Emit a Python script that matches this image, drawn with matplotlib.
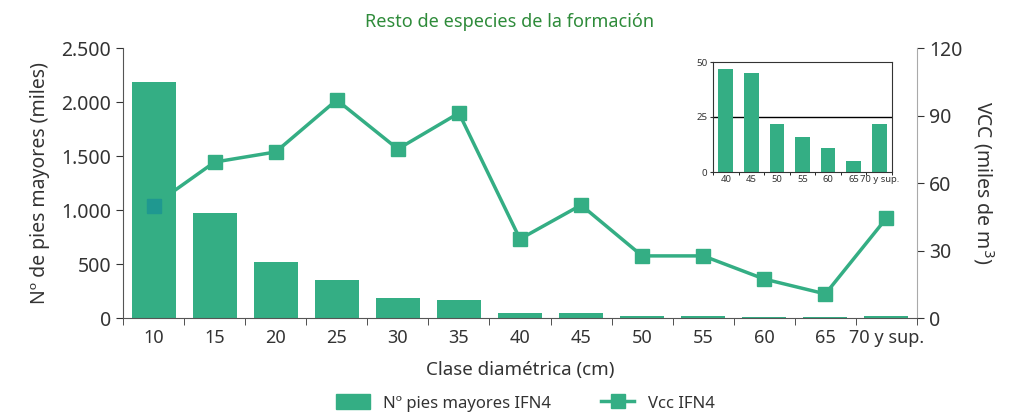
import numpy as np
import matplotlib.pyplot as plt
from matplotlib.patches import Patch
from matplotlib.lines import Line2D

plt.rcParams['font.family'] = ['Noto Sans', 'DejaVu Sans']

clases = ['10', '15', '20', '25', '30', '35', '40', '45', '50', '55', '60', '65', '70 y sup.']
pies = [2185, 970, 518, 352, 185, 167, 47, 45, 22, 16, 11, 5, 22]
vcc = [50.0, 69.3, 73.8, 96.9, 75.1, 91.1, 35.1, 50.2, 27.6, 27.6, 17.3, 10.7, 44.4]

inset_clases = clases[6:]
inset_pies = pies[6:]

green = '#34ae84'
dark = '#333333'

fig = plt.figure(figsize=(10.2, 4.12), dpi=100)
ax = fig.add_axes([123 / 1020, 1 - 318 / 412, (917 - 123) / 1020, 270 / 412])
x = np.arange(len(clases))

ax.bar(x, pies, width=0.72, color=green, zorder=2)
ax.set_xlim(-0.5, len(clases) - 0.5)
ax.set_ylim(0, 2500)
ax.set_yticks([0, 500, 1000, 1500, 2000, 2500])
ax.set_yticklabels(['0', '500', '1.000', '1.500', '2.000', '2.500'])
ax.set_xticks(x)
ax.set_xticklabels(clases)
ax.set_xticks(np.arange(len(clases) + 1) - 0.5, minor=True)
ax.tick_params(axis='x', which='major', length=0, pad=8, labelsize=13, colors=dark)
ax.tick_params(axis='x', which='minor', length=5, color=dark)
ax.tick_params(axis='y', labelsize=14, colors=dark, length=5)
ax.spines['top'].set_visible(False)
ax.spines['right'].set_visible(False)
ax.spines['left'].set_color('#555555')
ax.spines['bottom'].set_color('#555555')
ax.set_ylabel('Nº de pies mayores (miles)', fontsize=14, color=dark, labelpad=8)
ax.set_xlabel('Clase diamétrica (cm)', fontsize=13.5, color=dark, labelpad=10)

ax2 = ax.twinx()
ax2.set_ylim(0, 120)
ax2.set_yticks([0, 30, 60, 90, 120])
ax2.tick_params(axis='y', labelsize=14, colors=dark, length=5)
for s in ['top', 'left', 'bottom']:
    ax2.spines[s].set_visible(False)
ax2.spines['right'].set_color('#aaaaaa')
ax2.set_ylabel('VCC (miles de m$^3$)', fontsize=14, color=dark, rotation=270, labelpad=24)

# line behind bars, first marker shows through on top of the bar
ax.set_zorder(2)
ax.patch.set_visible(False)
ax2.set_zorder(1)
ax2.plot(x, vcc, color=green, lw=2.5, marker='s', ms=10, zorder=1)
ax.plot(x[0], vcc[0], marker='s', ms=10, color='#1f9890', zorder=3,
        transform=ax2.transData)

fig.text(0.5, 1 - 22 / 412, 'Resto de especies de la formación', ha='center', va='center',
         fontsize=13, color='#2e8b3a')

# inset
axi = fig.add_axes([713 / 1020, 1 - 172 / 412, (892 - 713) / 1020, 110 / 412])
xi = np.arange(len(inset_clases))
axi.bar(xi, inset_pies, width=0.58, color=green, zorder=2)
axi.axhline(25, color='black', lw=1, zorder=1)
axi.set_xlim(-0.5, len(inset_clases) - 0.5)
axi.set_ylim(0, 50)
axi.set_yticks([0, 25, 50])
axi.set_xticks(xi)
axi.set_xticklabels(inset_clases)
axi.set_xticks(np.arange(len(inset_clases) + 1) - 0.5, minor=True)
axi.tick_params(axis='x', which='major', length=0, pad=2, labelsize=6.8, colors=dark)
axi.tick_params(axis='x', which='minor', length=2)
axi.tick_params(axis='y', labelsize=7, colors=dark, length=2, pad=2)
for s in axi.spines.values():
    s.set_color('#333333')

# legend
handles = [Patch(facecolor=green, edgecolor=green),
           Line2D([0], [0], color=green, lw=2.5, marker='s', ms=10)]
fig.legend(handles, ['Nº pies mayores IFN4', 'Vcc IFN4'], loc='center',
           bbox_to_anchor=(0.515, 1 - 403 / 412), ncol=2, frameon=False, fontsize=12,
           handlelength=2.0, handleheight=1.0, columnspacing=3, labelcolor=dark)

fig.savefig('out.png', dpi=100)
